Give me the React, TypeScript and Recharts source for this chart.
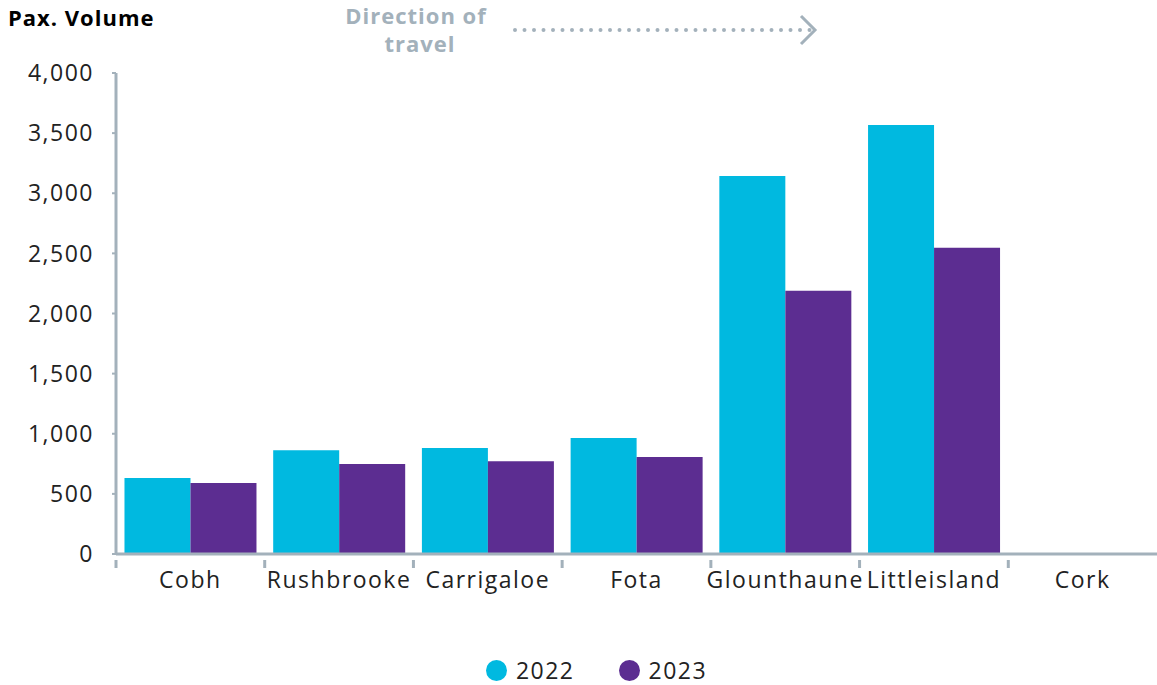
import { BarChart, Bar, XAxis, YAxis, Legend } from 'recharts';

const stops = ['Cobh', 'Rushbrooke', 'Carrigaloe', 'Fota', 'Glounthaune', 'Littleisland', 'Cork'];
const pax2022 = [632, 862, 881, 965, 3143, 3568, 0];
const pax2023 = [590, 748, 771, 807, 2190, 2547, 0];
const yTicks = [0, 500, 1000, 1500, 2000, 2500, 3000, 3500, 4000];

const data = stops.map((stop, i) => ({ stop, y2022: pax2022[i], y2023: pax2023[i] }));

const W = 1157;
const H = 685;
const LEFT = 116;
const TOP = 73;
const AXIS_H = 131;
const FONT = '"Open Sans", sans-serif';
const FS = 23;
const LS = 1.5;
const GREY = '#a3b1bb';
const CYAN = '#00b9e0';
const PURPLE = '#5c2d91';

const bandWidth = (W - LEFT) / stops.length;

const StopTick = (props: any) => {
  const { x, y, payload } = props;
  const left = x - bandWidth / 2;
  return (
    <g>
      <line x1={left} x2={left} y1={y - 2} y2={y + 6} stroke={GREY} strokeWidth={3} />
      <text x={x} y={y + 26} textAnchor="middle" fontSize={FS} letterSpacing={LS} fill="#222" fontFamily={FONT}>
        {payload.value}
      </text>
    </g>
  );
};

const LegendContent = () => (
  <div style={{ display: 'flex', justifyContent: 'center', gap: 44, fontFamily: FONT, fontSize: FS, letterSpacing: LS, color: '#222', paddingLeft: 36 }}>
    {[['2022', CYAN], ['2023', PURPLE]].map(([label, color]) => (
      <div key={label} style={{ display: 'flex', alignItems: 'center', gap: 9 }}>
        <span style={{ width: 21, height: 21, borderRadius: '50%', background: color, display: 'inline-block' }} />
        <span>{label}</span>
      </div>
    ))}
  </div>
);

export default function App() {
  return (
    <div style={{ position: 'absolute', left: 0, top: 0, width: W, height: H, background: '#fff' }}>
      <BarChart
        width={W}
        height={H}
        data={data}
        margin={{ top: TOP, right: 0, bottom: 0, left: 0 }}
        barCategoryGap="5.7%"
        barGap={0}
      >
        <YAxis
          width={LEFT}
          domain={[0, 4000]}
          ticks={yTicks}
          interval={0}
          tickFormatter={(v: number) => v.toLocaleString('en-US')}
          tick={{ fontSize: FS, fill: '#222', fontFamily: FONT, letterSpacing: LS }}
          axisLine={{ stroke: GREY, strokeWidth: 3 }}
          tickLine={{ stroke: GREY, strokeWidth: 2 }}
          tickSize={4}
          tickMargin={18}
        />
        <XAxis
          dataKey="stop"
          height={AXIS_H}
          interval={0}
          tick={<StopTick />}
          tickLine={false}
          axisLine={{ stroke: GREY, strokeWidth: 3 }}
        />
        <Legend
          layout="horizontal"
          verticalAlign="middle"
          align="center"
          content={<LegendContent />}
          wrapperStyle={{ top: 654, left: 0, width: W }}
        />
        <Bar dataKey="y2022" name="2022" fill={CYAN} isAnimationActive={false} />
        <Bar dataKey="y2023" name="2023" fill={PURPLE} isAnimationActive={false} />
      </BarChart>
      <svg width={W} height={70} style={{ position: 'absolute', left: 0, top: 0, pointerEvents: 'none' }}>
        <text x={8} y={26} fontSize={22} letterSpacing={1} fontWeight={700} fill="#000" fontFamily={FONT}>
          Pax. Volume
        </text>
        <text x={416} y={24} textAnchor="middle" fontSize={22} letterSpacing={1} fontWeight={700} fill={GREY} fontFamily={FONT}>
          Direction of
        </text>
        <text x={420} y={52} textAnchor="middle" fontSize={22} letterSpacing={1} fontWeight={700} fill={GREY} fontFamily={FONT}>
          travel
        </text>
        <line x1={515} x2={810} y1={30} y2={30} stroke={GREY} strokeWidth={4} strokeLinecap="round" strokeDasharray="0 9.5" />
        <polyline points="801,16 815,30 801,44" fill="none" stroke={GREY} strokeWidth={3} />
      </svg>
    </div>
  );
}
